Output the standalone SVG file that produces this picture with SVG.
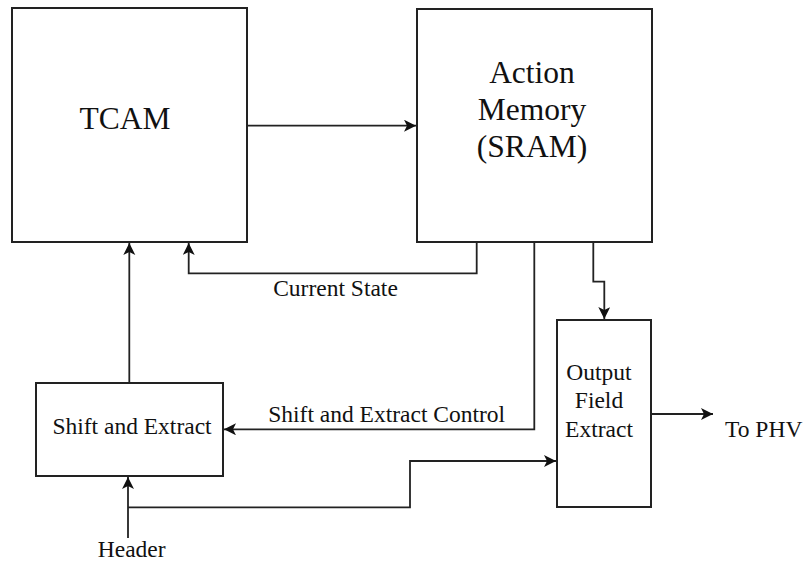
<svg xmlns="http://www.w3.org/2000/svg" width="803" height="562" viewBox="0 0 803 562">
<style>
.box{fill:#fff;stroke:#222;stroke-width:2}
.ln{fill:none;stroke:#222;stroke-width:1.8}
.big{font-size:31.5px;fill:#111;text-anchor:middle}
.sm{font-size:23.5px;fill:#111;text-anchor:middle}
</style>
<defs>
<marker id="ah" markerUnits="userSpaceOnUse" markerWidth="13" markerHeight="13" refX="12" refY="6" orient="auto">
<path d="M0,0 L12,6 L0,12 L3,6 z" fill="#111"/>
</marker>
</defs>
<rect width="803" height="562" fill="#fff"/>
<g font-family="Liberation Serif, Tinos, Times New Roman, Times, serif">
<g id="tcam">
<rect class="box" x="12" y="8" width="235" height="234"/>
<text class="big" x="125" y="129">TCAM</text>
</g>
<g id="action-memory">
<rect class="box" x="417" y="9" width="235" height="233"/>
<text class="big" x="532" y="83">Action</text>
<text class="big" x="532" y="120">Memory</text>
<text class="big" x="532" y="157">(SRAM)</text>
</g>
<g id="shift-extract">
<rect class="box" x="36" y="383" width="187" height="93"/>
<text class="sm" x="132" y="434">Shift and Extract</text>
</g>
<g id="output-field-extract">
<rect class="box" x="557" y="320" width="94" height="187"/>
<text class="sm" x="599" y="380">Output</text>
<text class="sm" x="599" y="408">Field</text>
<text class="sm" x="599" y="437">Extract</text>
</g>
<g id="connectors">
<path class="ln" d="M247,125.7 H416" marker-end="url(#ah)"/>
<path class="ln" d="M476.7,242 V273.3 H188.7 V243" marker-end="url(#ah)"/>
<path class="ln" d="M129.3,382.7 V243" marker-end="url(#ah)"/>
<path class="ln" d="M534.3,242 V429.3 H224" marker-end="url(#ah)"/>
<path class="ln" d="M593.3,242 V281.7 H604.3 V319" marker-end="url(#ah)"/>
<path class="ln" d="M128,538 V477" marker-end="url(#ah)"/>
<path class="ln" d="M128,507.3 H410 V461 H556" marker-end="url(#ah)"/>
<path class="ln" d="M651,414 H713" marker-end="url(#ah)"/>
</g>
<g id="labels">
<text class="sm" x="335.5" y="296">Current State</text>
<text class="sm" x="386.7" y="421.7">Shift and Extract Control</text>
<text class="sm" x="131.7" y="557">Header</text>
<text class="sm" x="725" y="437" style="text-anchor:start">To PHV</text>
</g>
</g>
</svg>
